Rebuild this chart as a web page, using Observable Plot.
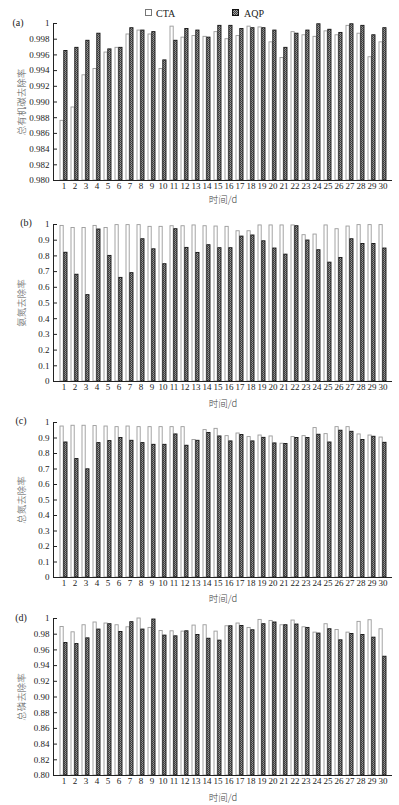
<!DOCTYPE html>
<html><head><meta charset="utf-8">
<script src="https://cdn.jsdelivr.net/npm/d3@7"></script>
<script src="https://cdn.jsdelivr.net/npm/@observablehq/plot@0.6"></script>
<style>
body{margin:0;background:#fff;}
#wrap{position:relative;width:399px;height:805px;overflow:hidden;font-family:"Liberation Serif",serif;color:#222;}
.panel{position:absolute;left:0;}
.panel text{font-family:"Liberation Serif",serif;}
.ylab{position:absolute;font-family:"Noto Sans CJK SC",sans-serif;font-size:9.5px;font-weight:300;color:#555;transform:translate(-50%,-50%) rotate(-90deg);white-space:nowrap;}
.xlab{position:absolute;font-family:"Noto Sans CJK SC",sans-serif;font-size:9.5px;font-weight:300;color:#444;transform:translate(-50%,-50%);white-space:nowrap;}
.plab{position:absolute;font-family:"Liberation Serif",serif;font-size:10px;color:#222;transform:translate(-50%,-50%);}
.leg{position:absolute;font-family:"Liberation Serif",serif;font-size:10px;color:#222;transform:translateY(-50%);}
</style></head>
<body>
<svg width="0" height="0" style="position:absolute">
  <defs>
    <pattern id="hatch" width="2" height="2" patternUnits="userSpaceOnUse">
      <rect width="2" height="2" fill="#a4a4a4"/>
      <rect width="1" height="1" fill="#3c3c3c"/>
      <rect x="1" y="1" width="1" height="1" fill="#3c3c3c"/>
    </pattern>
  </defs>
</svg>
<div id="wrap"></div>
<script>
const days = [1,2,3,4,5,6,7,8,9,10,11,12,13,14,15,16,17,18,19,20,21,22,23,24,25,26,27,28,29,30];
const seriesNames = ["CTA","AQP"];

// (a) 总有机碳去除率
const tocCTA = [0.9876,0.9893,0.9934,0.9942,0.9963,0.9969,0.9986,0.9991,0.9986,0.9942,0.9996,0.9982,0.9984,0.9983,0.9989,0.9980,0.9984,0.9996,0.9995,0.9976,0.9956,0.9989,0.9985,0.9983,0.9990,0.9985,0.9997,0.9987,0.9957,0.9976];
const tocAQP = [0.9965,0.9969,0.9978,0.9987,0.9967,0.9969,0.9994,0.9991,0.9989,0.9953,0.9978,0.9993,0.9991,0.9982,0.9997,0.9997,0.9993,0.9994,0.9994,0.9991,0.9969,0.9987,0.9991,0.9999,0.9992,0.9988,0.9999,0.9997,0.9985,0.9994];
// (b) 氨氮去除率
const nhCTA = [0.991,0.978,0.978,0.991,0.978,0.996,0.996,0.996,0.985,0.985,0.989,0.989,0.994,0.989,0.987,0.985,0.957,0.957,0.994,0.994,0.994,0.994,0.932,0.936,0.994,0.970,0.987,0.996,0.996,0.996];
const nhAQP = [0.820,0.680,0.550,0.968,0.800,0.660,0.690,0.906,0.842,0.747,0.970,0.851,0.819,0.868,0.849,0.849,0.923,0.930,0.893,0.847,0.808,0.989,0.898,0.836,0.757,0.787,0.906,0.876,0.876,0.847];
// (c) 总氮去除率
const tnCTA = [0.974,0.979,0.979,0.977,0.974,0.970,0.974,0.970,0.970,0.970,0.970,0.970,0.887,0.951,0.959,0.912,0.929,0.906,0.916,0.910,0.863,0.906,0.912,0.964,0.925,0.970,0.970,0.923,0.916,0.903];
const tnAQP = [0.871,0.764,0.698,0.867,0.880,0.900,0.882,0.867,0.856,0.856,0.923,0.850,0.882,0.932,0.910,0.878,0.919,0.878,0.901,0.865,0.861,0.900,0.900,0.921,0.871,0.947,0.940,0.887,0.908,0.869];
// (d) 总磷去除率
const tpCTA = [0.9892,0.9824,0.9914,0.9949,0.9936,0.9914,0.9888,1.0000,0.9880,0.9841,0.9837,0.9833,0.9910,0.9914,0.9833,0.9901,0.9936,0.9880,0.9982,0.9969,0.9914,0.9974,0.9888,0.9820,0.9927,0.9854,0.9820,0.9957,0.9978,0.9863];
const tpAQP = [0.9687,0.9674,0.9747,0.9859,0.9927,0.9828,0.9953,0.9859,0.9987,0.9782,0.9773,0.9837,0.9790,0.9742,0.9718,0.9901,0.9905,0.9850,0.9927,0.9949,0.9914,0.9923,0.9880,0.9808,0.9863,0.9722,0.9803,0.9790,0.9756,0.9513];

const ticksA = [0.980,0.982,0.984,0.986,0.988,0.990,0.992,0.994,0.996,0.998,1];
const ticksBC = [0,0.1,0.2,0.3,0.4,0.5,0.6,0.7,0.8,0.9,1];
const ticksD = [0.80,0.82,0.84,0.86,0.88,0.90,0.92,0.94,0.96,0.98,1];

const panelLetters = ["(a)","(b)","(c)","(d)"];
const yTitles = ["总有机碳去除率","氨氮去除率","总氮去除率","总磷去除率"];
const xTitle = "时间/d";

const wrap = document.getElementById("wrap");

function makePanel(cfg) {
  const data = days.map((d, i) => ({day: d, cta: cfg.cta[i], aqp: cfg.aqp[i]}));
  const y0 = cfg.domain[0];
  const p = Plot.plot({
    width: 399, height: cfg.height,
    marginLeft: 53, marginRight: 7, marginTop: cfg.mt, marginBottom: cfg.mb,
    style: {fontFamily: "Liberation Serif, serif", fontSize: "9px", color: "#222", background: "transparent", overflow: "visible"},
    x: {type: "band", domain: days, padding: 0},
    y: {domain: cfg.domain},
    marks: [
      Plot.barY(data, {x: "day", y1: y0, y2: "cta", fill: "#fff", stroke: "#9a9a9a", strokeWidth: 0.9, insetLeft: 3.9, insetRight: 3.9, dx: -1.9}),
      Plot.barY(data, {x: "day", y1: y0, y2: "aqp", fill: "url(#hatch)", stroke: "#111", strokeWidth: 0.9, insetLeft: 3.9, insetRight: 3.9, dx: 1.9}),
      Plot.axisY({ticks: cfg.ticks, tickFormat: cfg.fmt, tickSize: -4, tickPadding: 8, label: null}),
      Plot.axisX({tickSize: 0, tickPadding: 2, label: null}),
      Plot.ruleY([y0], {stroke: "#222"}),
      Plot.frame({anchor: "left", stroke: "#222"})
    ]
  });
  p.classList.add("panel");
  p.style.top = cfg.top + "px";
  wrap.appendChild(p);
}

const fmtA = d => d === 1 ? "1" : d3.format(".3f")(d);
const fmtB = d => d === 1 ? "1" : d === 0 ? "0" : d3.format(".1f")(d);
const fmtD = d => d === 1 ? "1" : d3.format(".2f")(d);

const panels = [
  {cta: tocCTA, aqp: tocAQP, domain: [0.98, 1], ticks: ticksA, fmt: fmtA, top: 0, height: 203, mt: 23, mb: 23, lx: 18, ly: 22, xl: 199},
  {cta: nhCTA, aqp: nhAQP, domain: [0, 1], ticks: ticksBC, fmt: fmtB, top: 203, height: 200, mt: 21, mb: 22, lx: 26, ly: 222, xl: 403},
  {cta: tnCTA, aqp: tnAQP, domain: [0, 1], ticks: ticksBC, fmt: fmtB, top: 403, height: 198, mt: 19, mb: 24, lx: 21, ly: 420, xl: 598},
  {cta: tpCTA, aqp: tpAQP, domain: [0.8, 1], ticks: ticksD, fmt: fmtD, top: 601, height: 204, mt: 17, mb: 30, lx: 21, ly: 617, xl: 797}
];

panels.forEach((cfg, i) => {
  makePanel(cfg);
  const plotTop = cfg.top + cfg.mt, plotBottom = cfg.top + cfg.height - cfg.mb;
  const yt = document.createElement("div");
  yt.className = "ylab"; yt.textContent = yTitles[i];
  yt.style.left = "21px"; yt.style.top = ((plotTop + plotBottom) / 2) + "px";
  wrap.appendChild(yt);
  const pl = document.createElement("div");
  pl.className = "plab"; pl.textContent = panelLetters[i];
  pl.style.left = cfg.lx + "px"; pl.style.top = cfg.ly + "px";
  wrap.appendChild(pl);
  const xt = document.createElement("div");
  xt.className = "xlab"; xt.textContent = xTitle;
  xt.style.left = "223px"; xt.style.top = cfg.xl + "px";
  wrap.appendChild(xt);
});

// legend
const legItems = [
  {name: seriesNames[0], sx: 145, tx: 156, fill: "#fff", stroke: "#777"},
  {name: seriesNames[1], sx: 232, tx: 244, fill: "url(#hatch)", stroke: "#111"}
];
legItems.forEach(it => {
  const s = document.createElementNS("http://www.w3.org/2000/svg", "svg");
  s.setAttribute("width", 7); s.setAttribute("height", 7);
  s.style.position = "absolute"; s.style.left = it.sx + "px"; s.style.top = "9px";
  const r = document.createElementNS("http://www.w3.org/2000/svg", "rect");
  r.setAttribute("x", 0.5); r.setAttribute("y", 0.5); r.setAttribute("width", 6); r.setAttribute("height", 6);
  r.setAttribute("fill", it.fill); r.setAttribute("stroke", it.stroke);
  s.appendChild(r); wrap.appendChild(s);
  const t = document.createElement("div");
  t.className = "leg"; t.textContent = it.name;
  t.style.left = it.tx + "px"; t.style.top = "12.5px";
  wrap.appendChild(t);
});
</script>
</body></html>
